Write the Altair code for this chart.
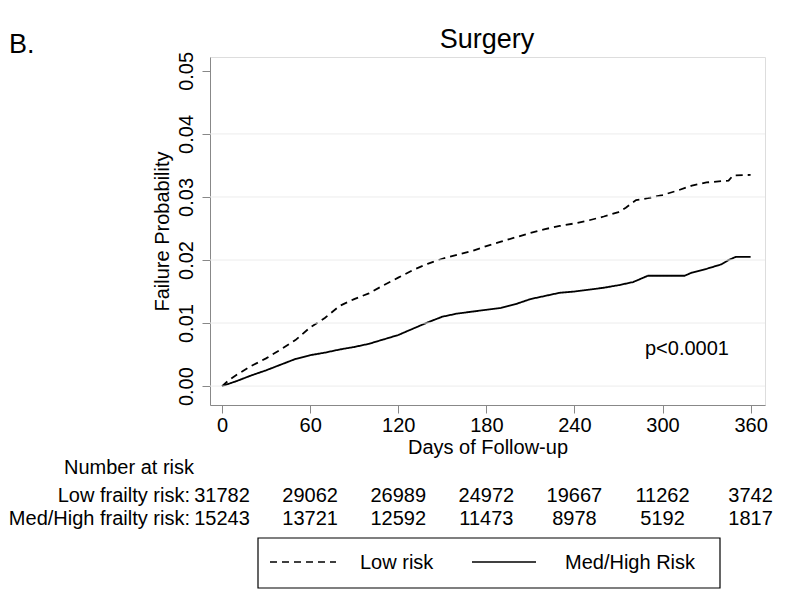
import altair as alt
import pandas as pd

# ---------------- data ----------------
series_names = ["Low risk", "Med/High Risk"]

low_days = [0, 5, 10, 20, 30, 40, 50, 60, 70, 80, 90, 100, 110, 120, 130, 140, 150, 160,
            170, 180, 190, 200, 210, 220, 230, 240, 250, 260, 270, 275, 282, 290, 300,
            310, 320, 330, 340, 345, 348, 360]
low_vals = [0.0, 0.0010, 0.0018, 0.0032, 0.0044, 0.0058, 0.0073, 0.0093, 0.0108, 0.0127,
            0.0138, 0.0147, 0.0160, 0.0172, 0.0184, 0.0194, 0.0202, 0.0208, 0.0214, 0.0222,
            0.0229, 0.0236, 0.0243, 0.0249, 0.0254, 0.0258, 0.0263, 0.0269, 0.0276, 0.0283,
            0.0295, 0.0298, 0.0303, 0.0310, 0.0318, 0.0323, 0.0325, 0.0326, 0.0334, 0.0335]

med_days = [0, 10, 20, 30, 40, 50, 60, 70, 80, 90, 100, 110, 120, 130, 140, 150, 160, 170,
            180, 190, 200, 210, 220, 230, 240, 250, 260, 270, 280, 290, 315, 320, 330, 340,
            345, 350, 360]
med_vals = [0.0, 0.0008, 0.0017, 0.0025, 0.0034, 0.0043, 0.0049, 0.0053, 0.0058, 0.0062,
            0.0067, 0.0074, 0.0081, 0.0091, 0.0101, 0.0110, 0.0115, 0.0118, 0.0121, 0.0124,
            0.0130, 0.0138, 0.0143, 0.0148, 0.0150, 0.0153, 0.0156, 0.0160, 0.0165, 0.0175,
            0.0175, 0.0180, 0.0186, 0.0193, 0.0200, 0.0205, 0.0205]

risk_days = [0, 60, 120, 180, 240, 300, 360]
low_counts = [31782, 29062, 26989, 24972, 19667, 11262, 3742]
med_counts = [15243, 13721, 12592, 11473, 8978, 5192, 1817]
row_labels = ["Low frailty risk:", "Med/High frailty risk:"]

x_ticks = [0, 60, 120, 180, 240, 300, 360]
y_ticks = [0.0, 0.01, 0.02, 0.03, 0.04, 0.05]
grid_vals = [0.0, 0.01, 0.02, 0.03, 0.04]

# ---------------- tables ----------------
curves = pd.concat([
    pd.DataFrame({"day": low_days, "prob": low_vals, "group": series_names[0]}),
    pd.DataFrame({"day": med_days, "prob": med_vals, "group": series_names[1]}),
], ignore_index=True)
low_tab = pd.DataFrame({"day": risk_days, "n": [str(v) for v in low_counts]})
med_tab = pd.DataFrame({"day": risk_days, "n": [str(v) for v in med_counts]})
grid_df = pd.DataFrame({"v": grid_vals})
one = pd.DataFrame({"a": [0]})

FONT = "Liberation Sans"
W, H = 555, 348
x_scale = alt.Scale(domain=[-8.2, 369.8], nice=False, zero=False)
y_scale = alt.Scale(domain=[-0.003, 0.0522], nice=False, zero=False)

x_axis = alt.Axis(values=x_ticks, title="Days of Follow-up", grid=False,
                  tickSize=8, labelPadding=2, titlePadding=2,
                  labelFontSize=20, titleFontSize=20, titleFontWeight="normal")
y_axis = alt.Axis(values=y_ticks, format=".2f", title="Failure Probability",
                  grid=False, tickSize=8, labelAngle=270, labelAlign="center",
                  labelBaseline="bottom", labelPadding=6, titlePadding=4,
                  labelFontSize=20, titleFontSize=20, titleFontWeight="normal")

lines = alt.Chart(curves).mark_line(color="black", strokeWidth=1.8).encode(
    x=alt.X("day:Q", scale=x_scale, axis=x_axis),
    y=alt.Y("prob:Q", scale=y_scale, axis=y_axis),
    strokeDash=alt.StrokeDash(
        "group:N",
        scale=alt.Scale(domain=series_names, range=[[7, 5], [1, 0]]),
        legend=None,
    ),
)

grid = alt.Chart(grid_df).mark_rule(color="#ececec", strokeWidth=1).encode(
    y=alt.Y("v:Q", scale=y_scale, axis=y_axis),
    x=alt.value(0), x2=alt.value(W),
)


def label(text, x, y, size=20, align="left"):
    return alt.Chart(pd.DataFrame({"t": [text]})).mark_text(
        fontSize=size, font=FONT, align=align, baseline="middle", color="black"
    ).encode(text="t:N", x=alt.value(x), y=alt.value(y))


title = label("Surgery", 277, -17, size=27, align="center")
panel = label("B.", -201, -12, size=27)
nrisk = label("Number at risk", -146, 411)
row1 = label(row_labels[0], -20, 439, align="right")
row2 = label(row_labels[1], -20, 462, align="right")
pval = label("p<0.0001", 435, 292)

tab1 = alt.Chart(low_tab).mark_text(fontSize=20, font=FONT, align="center",
                                    baseline="middle").encode(
    x=alt.X("day:Q", scale=x_scale), y=alt.value(439), text="n:N")
tab2 = alt.Chart(med_tab).mark_text(fontSize=20, font=FONT, align="center",
                                    baseline="middle").encode(
    x=alt.X("day:Q", scale=x_scale), y=alt.value(462), text="n:N")

# legend box (drawn by hand)
leg_box = alt.Chart(one).mark_rect(fill="white", stroke="black", strokeWidth=1.2).encode(
    x=alt.value(48), x2=alt.value(510), y=alt.value(481), y2=alt.value(531))
leg_dash = alt.Chart(one).mark_rule(color="black", strokeWidth=1.5, strokeDash=[7, 5]).encode(
    x=alt.value(60), x2=alt.value(126), y=alt.value(505))
leg_solid = alt.Chart(one).mark_rule(color="black", strokeWidth=1.5).encode(
    x=alt.value(262), x2=alt.value(326), y=alt.value(505))
leg_t1 = label(series_names[0], 150, 506)
leg_t2 = label(series_names[1], 355, 506)

chart = alt.layer(lines, grid, title, panel, nrisk, row1, row2, pval, tab1, tab2,
                  leg_box, leg_dash, leg_solid, leg_t1, leg_t2).properties(
    width=W, height=H,
    padding={"left": 202, "top": 49, "right": 27, "bottom": 194},
    autosize=alt.AutoSizeParams(type="none"),
).configure_view(strokeWidth=0).configure_axis(
    domainColor="#444444", tickColor="#444444", domainWidth=1.5, tickWidth=1.5,
    labelColor="#111111", titleColor="#111111", labelFont=FONT, titleFont=FONT,
).configure(background="white")

chart.save("out.html", embed_options={"renderer": "svg", "actions": False})
